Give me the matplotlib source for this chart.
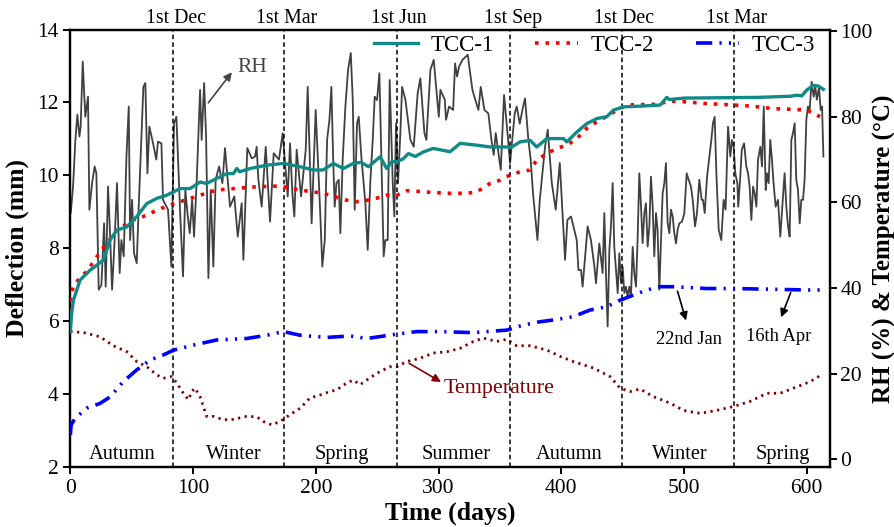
import matplotlib
matplotlib.use("Agg")
import matplotlib.pyplot as plt
from matplotlib.transforms import blended_transform_factory

plt.rcParams['font.family'] = ['Liberation Serif', 'DejaVu Serif']
plt.rcParams['mathtext.fontset'] = 'stix'

# ---------------- data ----------------
rh_days = [0.3, 2.2, 4.1, 5.7, 7.4, 8.4, 10.1, 12.2, 14.4, 15.5, 17.7, 19.8, 21.2, 23.1, 25.3, 27.5, 28.8,
           30.7, 32.1, 34.0, 36.1, 38.0, 40.2, 41.6, 43.5, 45.7, 47.6, 48.7, 50.3, 51.9, 54.1, 55.7, 58.4,
           59.5, 61.1, 62.8, 64.4, 67.4, 70.0, 71.4, 74.2, 75.5, 79.6, 82.3, 84.5, 86.4, 89.6, 91.8, 93.7,
           95.4, 97.3, 99.2, 100.8, 103.0, 105.7, 107.0, 109.0, 110.6, 112.5, 114.4, 116.5, 118.4, 121.2,
           123.9, 126.0, 130.1, 133.6, 136.4, 139.6, 141.0, 144.2, 147.8, 150.5, 151.8, 153.2, 155.9, 159.2,
           162.7, 165.7, 170.0, 173.0, 177.1, 179.0, 180.9, 182.5, 184.4, 188.0, 191.8, 193.4, 196.6, 199.9,
           203.4, 205.3, 207.3, 209.2, 211.1, 212.7, 214.1, 215.4, 216.8, 218.7, 220.0, 221.9, 224.1, 226.3,
           228.5, 230.1, 231.7, 233.6, 235.0, 237.1, 239.0, 240.4, 242.3, 244.5, 246.4, 248.0, 249.9, 251.8,
           253.4, 255.3, 256.7, 258.6, 260.2, 262.7, 264.0, 265.4, 267.0, 268.9, 270.3, 273.0, 275.7, 277.1,
           279.8, 283.0, 285.2, 288.5, 290.1, 293.4, 296.1, 300.2, 301.5, 305.1, 306.1, 308.6, 311.9, 313.5,
           315.1, 316.7, 319.5, 323.8, 327.6, 329.2, 332.5, 334.4, 337.4, 340.6, 343.1, 345.0, 346.6, 350.7,
           353.4, 356.7, 358.3, 362.1, 363.7, 366.2, 368.9, 370.5, 373.2, 375.1, 377.0, 380.6, 382.5, 386.8,
           389.0, 392.3, 395.5, 398.8, 403.1, 405.0, 408.0, 412.6, 414.0, 416.1, 417.4, 420.1, 421.5, 424.2,
           427.0, 428.3, 431.0, 433.7, 435.1, 436.4, 437.8, 439.2, 440.5, 441.9, 443.2, 446.0, 447.3, 448.7,
           450.0, 451.4, 452.7, 454.1, 455.5, 456.8, 458.2, 459.5, 460.9, 462.2, 463.6, 465.0, 466.3, 467.7,
           469.0, 470.4, 471.8, 473.1, 474.5, 475.8, 477.2, 478.5, 479.9, 481.3, 482.6, 484.0, 485.3, 486.7,
           488.1, 489.4, 490.8, 492.1, 493.5, 494.8, 496.2, 498.4, 500.3, 502.2, 503.8, 505.7, 507.1, 509.0,
           510.6, 512.5, 514.4, 515.5, 516.9, 518.8, 522.3, 523.6, 525.0, 526.4, 528.3, 530.4, 532.3, 533.9,
           535.9, 537.8, 539.1, 540.5, 541.8, 543.5, 544.2, 545.7, 547.1, 549.0, 550.8, 552.2, 553.5, 554.9,
           556.3, 557.6, 559.0, 560.3, 562.2, 563.6, 565.0, 566.6, 567.6, 569.0, 570.3, 571.7, 573.0, 574.7,
           576.6, 578.5, 580.1, 582.0, 583.4, 584.8, 586.1, 587.5, 588.8, 590.2, 591.5, 592.9, 594.3, 595.6,
           597.0, 598.3, 599.7, 601.0, 602.4, 604.0, 605.7, 607.0, 608.3, 610.0, 611.4, 612.5, 613.6]
rh_vals = [57.5, 63.7, 74.6, 80.5, 75.4, 77.7, 92.9, 80.0, 84.7, 58.3, 64.5, 68.4, 66.8, 39.6, 40.7, 55.1, 40.3,
           63.7, 54.4, 39.6, 51.2, 64.5, 43.5, 51.2, 47.4, 70.7, 82.4, 51.2, 60.6, 48.1, 45.8, 59.0, 78.5,
           87.0, 87.9, 66.8, 77.7, 73.8, 70.0, 74.2, 73.8, 60.6, 58.3, 45.0, 78.5, 80.0, 56.7, 42.7, 62.9,
           57.5, 52.8, 60.6, 52.0, 65.3, 86.3, 74.6, 87.9, 75.4, 42.3, 62.9, 45.0, 65.3, 68.4,
           64.5, 72.7, 59.0, 61.4, 52.0, 59.8, 46.6, 72.7, 70.3, 70.7, 73.0, 65.3, 59.0, 73.0,
           55.5, 71.5, 70.0, 76.2, 61.4, 73.8, 62.1, 56.7, 72.3, 61.4, 72.3, 87.0, 55.1, 81.6,
           59.0, 45.0, 51.2, 74.6, 79.3, 87.0, 70.7, 59.0, 64.5, 65.3, 52.8, 69.9, 82.4, 91.0,
           94.9, 84.0, 58.3, 78.5, 80.0, 70.7, 64.5, 59.8, 48.9, 65.3, 74.6, 84.7, 83.9, 90.2,
           70.7, 47.4, 51.2, 51.2, 88.6, 64.5, 56.7, 78.5, 64.5, 76.2, 87.0, 84.0, 77.7, 74.6,
           73.0, 85.5, 89.0, 76.2, 74.6, 91.0, 93.3, 80.0, 86.3, 84.0, 79.3, 82.4, 81.6, 92.5,
           89.4, 91.7, 93.3, 94.5, 86.3, 84.7, 81.6, 87.0, 81.6, 80.8, 74.6, 71.1, 76.2, 67.6,
           85.1, 74.6, 69.2, 80.8, 82.4, 78.4, 82.4, 84.3, 74.6, 70.0, 62.1, 51.2, 60.6, 73.0,
           77.0, 64.5, 58.3, 69.2, 46.6, 55.9, 56.7, 51.2, 44.2, 44.2, 40.3, 49.7, 54.4, 51.2,
           45.0, 41.1, 50.4, 43.5, 57.5, 43.5, 31.0, 48.9, 54.4, 64.5, 49.7, 38.8, 48.1, 41.1,
           45.0, 38.8, 40.3, 38.0, 40.3, 38.0, 49.6, 43.5, 40.3, 51.2, 66.8, 59.0, 50.5, 57.5,
           59.8, 49.7, 54.4, 66.0, 59.0, 47.4, 57.5, 53.6, 39.6, 51.2, 62.1, 64.5, 69.2, 55.1,
           52.8, 58.3, 56.7, 52.8, 50.4, 53.6, 55.1, 55.5, 57.5, 66.8, 65.3, 63.7, 60.6, 54.4,
           57.5, 65.3, 60.6, 60.6, 57.5, 66.0, 74.6, 78.5, 80.0, 66.8, 53.6, 51.2, 60.6, 58.3,
           77.7, 70.7, 74.6, 73.0, 66.8, 64.5, 59.0, 65.3, 72.3, 73.8, 68.4, 66.8, 63.7, 55.9,
           63.7, 62.1, 59.0, 69.9, 73.0, 68.4, 82.4, 62.9, 66.8, 64.5, 74.6, 70.0, 64.5, 59.0,
           60.6, 52.0, 59.0, 66.8, 59.0, 54.4, 52.0, 74.6, 76.2, 78.5, 65.3, 62.9, 55.1, 60.6,
           60.6, 65.3, 79.3, 82.4, 81.6, 88.2, 84.7, 87.0, 84.0, 87.0, 81.6, 82.4, 70.7]

tcc1_days = [0, 1, 2.5, 7.9, 16, 21.5, 26.9, 32.4, 37.8, 46, 54, 62.3, 70.4, 78.6, 84, 89.4, 97.6, 105.7,
             111, 119.3, 127.5, 132.9, 135.6, 138, 146.5, 160, 173.6, 187.2, 198, 206, 214.3, 222.5, 230.6,
             237, 242.9, 252.4, 257.8, 262, 266, 271, 275.5, 281, 288, 295.8, 309.4, 317.6, 331, 342, 359.7,
             366.5, 374.6, 380, 388.2, 401.8, 404.5, 412.7, 420.8, 429, 437.1, 442.5, 450.7, 465, 480.6,
             486, 488, 500, 560, 586.5, 592, 596, 600, 605.5, 609.5, 613.6]
tcc1_vals = [5.72, 6.2, 6.58, 7.13, 7.4, 7.54, 7.68, 8.23, 8.5, 8.59, 8.87, 9.23, 9.37, 9.46, 9.55, 9.64, 9.64,
             9.82, 9.78, 9.92, 10.05, 10.05, 10.19, 10.1, 10.19, 10.28, 10.33, 10.24, 10.15, 10.15, 10.33,
             10.19, 10.33, 10.36, 10.24, 10.51, 10.19, 10.38, 10.38, 10.45, 10.6, 10.52, 10.65, 10.74, 10.65,
             10.88, 10.83, 10.78, 10.78, 10.92, 10.96, 10.78, 11.01, 11.01, 10.92, 11.19, 11.42, 11.56, 11.61,
             11.79, 11.88, 11.9, 11.93, 12.14, 12.08, 12.12, 12.14, 12.17, 12.2, 12.18, 12.34, 12.47, 12.45,
             12.36]

tcc2_days = [0, 0.3, 2.2, 7.4, 14.2, 19.6, 29.7, 37.8, 51.3, 62.3, 70.4, 81.3, 89.4, 105.7, 119.3, 132.9,
             151.9, 170.9, 187.2, 206.2, 225.2, 233, 241.6, 250, 257.8, 266, 274.1, 285, 295.8, 310, 323,
             331.2, 342, 350.2, 358.3, 366.5, 374.6, 380, 388.2, 396.3, 404.5, 412.7, 420.8, 429, 437.1,
             445.3, 453.4, 465, 477.8, 488.6, 500, 518.6, 540.3, 555, 573, 589.3, 600, 610.9]
tcc2_vals = [6.26, 6.58, 6.95, 7.18, 7.4, 7.68, 8.14, 8.5, 8.78, 8.91, 9.05, 9.19, 9.28, 9.46, 9.6, 9.64,
             9.69, 9.71, 9.6, 9.51, 9.32, 9.28, 9.32, 9.38, 9.46, 9.46, 9.58, 9.56, 9.53, 9.51, 9.51,
             9.55, 9.78, 9.87, 10.01, 10.1, 10.15, 10.42, 10.6, 10.74, 10.83, 11.01, 11.29, 11.47, 11.62,
             11.79, 11.93, 11.94, 11.95, 12.04, 12.02, 11.97, 11.93, 11.9, 11.83, 11.81, 11.79, 11.61]

tcc3_days = [0, 0.6, 3.8, 13.4, 24.2, 32.4, 43.2, 54.1, 65, 75.8, 84, 100.3, 119.3, 143.7, 160, 173.6,
             187.2, 208.9, 227.9, 241.6, 266, 282.3, 301.3, 328.4, 355.6, 369.2, 382.8, 396.3, 409.9,
             423.4, 437.1, 448, 458.8, 469.7, 480.6, 491.4, 518.6, 540.3, 572.9, 600, 613.6]
tcc3_vals = [2.89, 3.16, 3.34, 3.62, 3.75, 3.93, 4.35, 4.67, 4.94, 5.08, 5.21, 5.35, 5.49, 5.53, 5.62, 5.72,
             5.62, 5.56, 5.6, 5.53, 5.65, 5.72, 5.72, 5.69, 5.76, 5.9, 5.99, 6.05, 6.13,
             6.31, 6.4, 6.58, 6.72, 6.86, 6.95, 6.95, 6.9, 6.9, 6.88, 6.86, 6.86]

temp_days = [0, 10.6, 24.2, 35, 46, 54.1, 62.3, 70.4, 75.8, 82.6, 86.7, 92.1, 96.2, 98.9, 101.6, 105.7,
             111.1, 116.5, 124.7, 132.9, 143.7, 151.9, 157.3, 164.1, 170.9, 179, 187.2, 195.3, 203.4,
             211.6, 217, 225.2, 230.6, 236.1, 244, 252.4, 260.5, 266, 274.1, 285, 295.8, 306.7, 317.6,
             328.4, 336.5, 347.4, 355.6, 363.7, 374.6, 388.2, 399.2, 409.9, 426.2, 439.8, 448, 456.1,
             464.2, 475.1, 488.7, 499.5, 513.1, 526.7, 540.3, 553.9, 567.5, 578.3, 589.2, 602.7, 610.9]
temp_vals = [29.8, 29.6, 28.6, 26.5, 25.1, 22.8, 21.6, 19.7, 18.9, 19.3, 17.8, 15.4, 13.9, 15.8, 16.6, 14.6,
             10.0, 10.0, 9.2, 9.3, 10.0, 9.9, 8.8, 8.0, 8.8, 10.4, 11.9, 14.3, 15.0,
             15.8, 16.2, 17.8, 18.5, 17.4, 19.0, 20.5, 21.6, 21.6, 22.8, 23.6, 24.8, 25.1, 25.9,
             27.5, 28.3, 27.5, 28.0, 26.5, 26.5, 25.5, 24.0, 22.8, 21.3, 19.3, 16.6, 15.8,
             16.4, 14.6, 13.1, 11.4, 10.7, 11.4, 12.3, 13.5, 15.4, 15.4, 16.6, 18.1, 19.5]

boundary_days = [84, 174, 266, 358.5, 449.5, 540.5]
boundary_labels = ['1st Dec', '1st Mar', '1st Jun', '1st Sep', '1st Dec', '1st Mar']
season_days = [42, 133, 221, 314, 406.5, 497, 580.5]
season_labels = ['Autumn', 'Winter', 'Spring', 'Summer', 'Autumn', 'Winter', 'Spring']

# ---------------- figure ----------------
fig = plt.figure(figsize=(8.95, 5.27), dpi=100)
ax = fig.add_axes([0.0786, 0.1133, 0.8488, 0.8307])
ax2 = ax.twinx()
ax.set_zorder(ax2.get_zorder() + 1)
ax.patch.set_visible(False)

# right axis series
ax2.plot(rh_days, rh_vals, color='#404040', lw=1.3, zorder=2)
ax2.plot(temp_days, temp_vals, color='#800000', lw=2.0, linestyle=(0, (0.8, 1.6)), zorder=3)

# left axis series
l1, = ax.plot(tcc1_days, tcc1_vals, color='#0f8a87', lw=2.4, label='TCC-1', zorder=5)
l2, = ax.plot(tcc2_days, tcc2_vals, color='#ff0000', lw=2.6, linestyle=(0, (1.0, 1.9)), label='TCC-2', zorder=4)
l3, = ax.plot(tcc3_days, tcc3_vals, color='#0000ff', lw=2.6,
              linestyle=(0, (4.5, 2.0, 0.6, 2.0, 0.6, 2.0)), label='TCC-3', zorder=4)

for d in boundary_days:
    ax.axvline(d, color='black', lw=1.1, linestyle=(0, (3.0, 2.0)), zorder=1)

trans = blended_transform_factory(ax.transData, ax.transAxes)
for d, lab in zip(boundary_days, boundary_labels):
    ax.text(d + 2, 1.026, lab, transform=trans, ha='center', va='center', fontsize=14.3)
for d, lab in zip(season_days, season_labels):
    ax.text(d, 2.34, lab, ha='center', va='center', fontsize=14.7)

# annotations
ax.annotate('', xy=(133, 12.89), xytext=(111, 11.93),
            arrowprops=dict(arrowstyle='-|>', color='#444444', lw=1.2, mutation_scale=12))
ax.text(136, 12.95, 'RH', color='#444444', fontsize=15.5, ha='left', va='center')

ax.annotate('', xy=(304, 4.3), xytext=(274, 4.89),
            arrowprops=dict(arrowstyle='-|>', color='#800000', lw=1.2, mutation_scale=12))
ax.text(304, 4.17, 'Temperature', color='#800000', fontsize=15.8, ha='left', va='center')

ax.annotate('', xy=(502.3, 5.95), xytext=(494.1, 6.9),
            arrowprops=dict(arrowstyle='-|>', color='black', lw=1.2, mutation_scale=12))
ax.text(504.4, 5.49, '22nd Jan', fontsize=13.3, ha='center', va='center')

ax.annotate('', xy=(578.3, 6.04), xytext=(587.8, 6.86),
            arrowprops=dict(arrowstyle='-|>', color='black', lw=1.2, mutation_scale=12))
ax.text(576.9, 5.58, '16th Apr', fontsize=13.3, ha='center', va='center')

# axes
ax.set_xlim(0, 619)
ax.set_ylim(2, 14)
ax.set_yticks([2, 4, 6, 8, 10, 12, 14])
ax.set_xticks([0, 100, 200, 300, 400, 500, 600])
ax2.set_ylim(-1.9, 100.4)
ax2.set_yticks([0, 20, 40, 60, 80, 100])

for a in (ax, ax2):
    for s in a.spines.values():
        s.set_linewidth(1.6)
ax.tick_params(axis='both', direction='out', length=5, width=1.4, labelsize=15.5, top=False, right=False)
ax2.tick_params(axis='y', direction='out', length=5, width=1.4, labelsize=15.5, pad=2.5)

ax.set_xlabel('Time (days)', fontsize=18.5, fontweight='bold', labelpad=2.5)
ax.set_ylabel('Deflection (mm)', fontsize=18.5, fontweight='bold', labelpad=6)
ax2.set_ylabel('RH (%) & Temperature (°C)', fontsize=18, fontweight='bold', labelpad=0)

ax.legend(handles=[l1, l2, l3], loc='center left', bbox_to_anchor=(0.40, 0.964), ncol=3,
          frameon=False, fontsize=16.5, handlelength=1.9, handletextpad=0.55, columnspacing=1.8,
          borderaxespad=0, borderpad=0)

fig.savefig('out.png', dpi=100)
